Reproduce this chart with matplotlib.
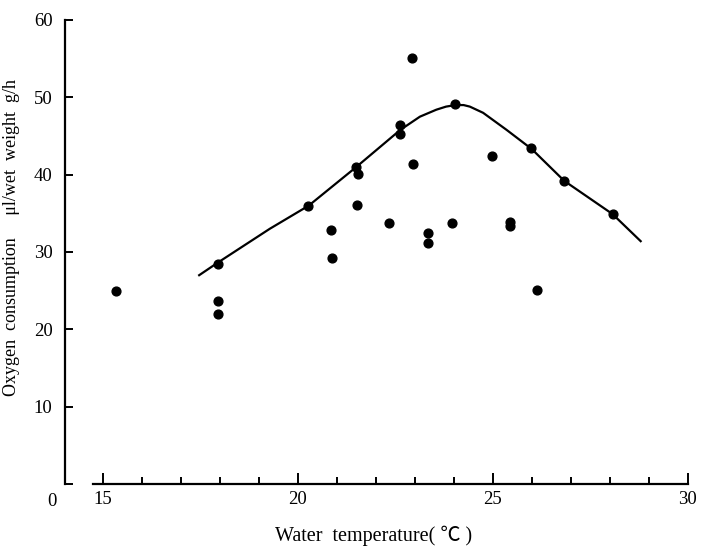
import numpy as np
import matplotlib.pyplot as plt

plt.rcParams['font.family'] = ['Liberation Serif', 'DejaVu Serif']

# measured points (water temperature, oxygen consumption)
temp = [15.35, 17.95, 17.95, 17.95, 20.25, 20.85, 20.87, 21.48, 21.54, 21.51,
        22.34, 22.63, 22.63, 22.94, 22.92, 23.33, 23.34, 23.96, 24.04, 24.97,
        25.44, 25.45, 25.99, 26.12, 26.83, 28.07]
oxy = [24.9, 28.5, 23.6, 22.0, 35.9, 32.9, 29.2, 41.0, 40.1, 36.1,
       33.7, 46.4, 45.3, 41.4, 55.1, 32.4, 31.2, 33.7, 49.1, 42.4,
       33.9, 33.4, 43.4, 25.1, 39.2, 34.9]

# fitted curve
curve_t = [17.47, 17.94, 19.28, 20.28, 21.5, 22.63, 23.13, 23.55, 23.8,
           24.04, 24.25, 24.41, 24.75, 25.35, 26.0, 26.83, 28.07, 28.79]
curve_v = [27.0, 28.6, 33.0, 36.0, 41.0, 45.8, 47.5, 48.4, 48.8,
           49.0, 49.0, 48.8, 48.0, 45.8, 43.3, 39.2, 34.9, 31.4]

xticks = [15, 20, 25, 30]
yticks = [0, 10, 20, 30, 40, 50, 60]

fig = plt.figure(figsize=(7.04, 5.48), dpi=100)
ax = fig.add_axes([65 / 704, 1 - 484 / 548, 633 / 704, 464 / 548])

ax.plot(curve_t, curve_v, color='black', lw=1.6)
ax.scatter(temp, oxy, s=40, color='black', zorder=3)

ax.set_xlim(14.03, 30.26)
ax.set_ylim(0, 60)

ax.spines['top'].set_visible(False)
ax.spines['right'].set_visible(False)
ax.spines['left'].set_linewidth(1.6)
ax.spines['bottom'].set_linewidth(1.6)
ax.spines['left'].set_bounds(0, 60)
ax.spines['bottom'].set_bounds(14.75, 30)

ax.set_xticks(xticks)
ax.set_xticks(np.arange(15, 31, 1), minor=True)
ax.set_yticks(yticks)
ax.set_yticklabels([''] + [str(v) for v in yticks[1:]])
ax.tick_params(axis='x', which='major', direction='in', length=8, width=1.4,
               labelsize=13.5, pad=5)
ax.tick_params(axis='x', which='minor', direction='in', length=5, width=1.4)
ax.tick_params(axis='y', direction='in', length=6, width=1.4, labelsize=13.5, pad=9)

ax.text(13.7, -1.2, '0', fontsize=13.5, ha='center', va='top', clip_on=False)

ax.set_xlabel('Water  temperature( ℃ )', fontsize=14.5, va='center',
              family=['Liberation Serif', 'Noto Sans CJK SC'])
ax.xaxis.set_label_coords(0.488, -0.112)
ax.set_ylabel('Oxygen  consumption     μl/wet  weight  g/h', fontsize=13)
ax.yaxis.set_label_coords(-0.071, 0.532)

fig.savefig('out.png', dpi=100)
